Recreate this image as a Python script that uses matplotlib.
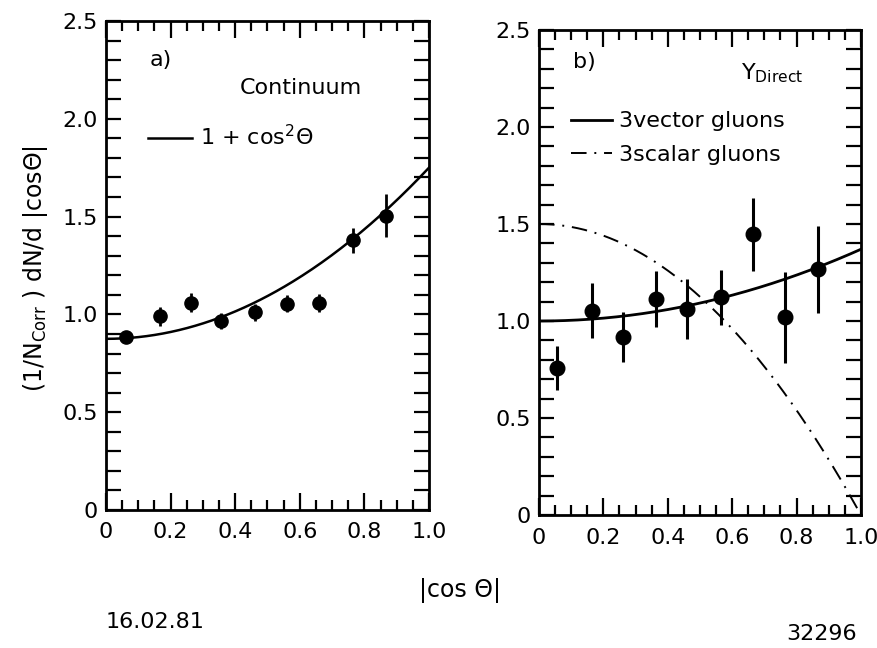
import numpy as np
import matplotlib
matplotlib.use('Agg')
import matplotlib.pyplot as plt
from matplotlib.ticker import MultipleLocator, FuncFormatter

# Continuum events: |cos theta| bins and normalised distribution
cos_cont = [0.062, 0.166, 0.263, 0.357, 0.460, 0.561, 0.661, 0.765, 0.866]
dist_cont = [0.885, 0.990, 1.060, 0.965, 1.010, 1.055, 1.058, 1.378, 1.505]
err_cont = [0.030, 0.050, 0.050, 0.040, 0.045, 0.045, 0.045, 0.065, 0.110]

# Direct Upsilon decays
cos_dir = [0.055, 0.166, 0.260, 0.363, 0.461, 0.565, 0.664, 0.764, 0.866]
dist_dir = [0.757, 1.054, 0.918, 1.114, 1.063, 1.122, 1.446, 1.020, 1.267]
err_dir = [0.113, 0.140, 0.130, 0.146, 0.155, 0.140, 0.190, 0.235, 0.225]

# Model curves: norm * (1 + slope * x^2)
cont_norm, cont_slope = 0.875, 1.0
vector_norm, vector_slope = 1.0, 0.37
scalar_norm, scalar_slope = 1.5, -1.0

FS = 16
plt.rcParams['font.family'] = ['DejaVu Sans']

fig = plt.figure(figsize=(8.78, 6.48), dpi=100)
ax_a = fig.add_axes([0.1207, 0.2130, 0.3679, 0.7546])
ax_b = fig.add_axes([0.6139, 0.2052, 0.3667, 0.7485])

xs = np.linspace(0, 1, 200)


def style_axes(ax):
    ax.set_xlim(0, 1.0)
    ax.set_ylim(0, 2.5)
    ax.xaxis.set_major_locator(MultipleLocator(0.2))
    ax.xaxis.set_minor_locator(MultipleLocator(0.05))
    ax.yaxis.set_major_locator(MultipleLocator(0.5))
    ax.yaxis.set_minor_locator(MultipleLocator(0.1))
    fmt = FuncFormatter(lambda v, p: '0' if abs(v) < 1e-9 else f'{v:.1f}')
    ax.xaxis.set_major_formatter(fmt)
    ax.yaxis.set_major_formatter(fmt)
    ax.tick_params(which='both', direction='in', top=True, right=True,
                   labelsize=FS, width=1.6, color='black')
    ax.tick_params(axis='x', which='major', length=12, pad=9)
    ax.tick_params(axis='x', which='minor', length=7)
    ax.tick_params(axis='y', which='both', length=11, pad=6)
    for sp in ax.spines.values():
        sp.set_linewidth(2.0)


# a) continuum
style_axes(ax_a)
ax_a.plot(xs, cont_norm * (1 + cont_slope * xs ** 2), color='black', lw=1.8,
          label='1 + cos$^{2}$Θ')
ax_a.errorbar(cos_cont, dist_cont, yerr=err_cont, fmt='o', color='black',
              ms=9.5, elinewidth=2, capsize=0)
ax_a.text(0.136, 0.92, 'a)', transform=ax_a.transAxes, fontsize=FS,
          ha='left', va='center')
ax_a.text(0.604, 0.862, 'Continuum', transform=ax_a.transAxes, fontsize=FS,
          ha='center', va='center')
ax_a.legend(loc='center left', bbox_to_anchor=(0.13, 0.763), frameon=False,
            fontsize=FS, handlelength=2.0, handletextpad=0.36,
            borderpad=0, borderaxespad=0)

# b) direct Upsilon decays
style_axes(ax_b)
ax_b.plot(xs, vector_norm * (1 + vector_slope * xs ** 2), color='black',
          lw=2.0, label='3vector gluons')
ax_b.plot(xs, scalar_norm * (1 + scalar_slope * xs ** 2), color='black',
          lw=1.4, linestyle=(0, (8, 4, 1, 4)), label='3scalar gluons')
ax_b.errorbar(cos_dir, dist_dir, yerr=err_dir, fmt='o', color='black',
              ms=10.5, elinewidth=2.2, capsize=0)
ax_b.text(0.106, 0.934, 'b)', transform=ax_b.transAxes, fontsize=FS,
          ha='left', va='center')
ax_b.text(0.627, 0.911, 'Υ$_{\\mathrm{Direct}}$', transform=ax_b.transAxes,
          fontsize=FS, ha='left', va='center')
ax_b.legend(loc='center left', bbox_to_anchor=(0.099, 0.777), frameon=False,
            fontsize=FS, handlelength=1.85, handletextpad=0.3,
            labelspacing=0.6, borderpad=0, borderaxespad=0)

# shared labels and page annotations
fig.text(0.040, 0.585, '(1/N$_{\\mathrm{Corr}}$ ) dN/d |cosΘ|', rotation=90,
         fontsize=17, ha='center', va='center')
fig.text(0.524, 0.0895, '|cos Θ|', fontsize=17, ha='center', va='center')
fig.text(0.12, 0.04, '16.02.81', fontsize=FS, ha='left', va='center')
fig.text(0.976, 0.022, '32296', fontsize=FS, ha='right', va='center')

fig.savefig('out.png', dpi=100)
plt.close(fig)
